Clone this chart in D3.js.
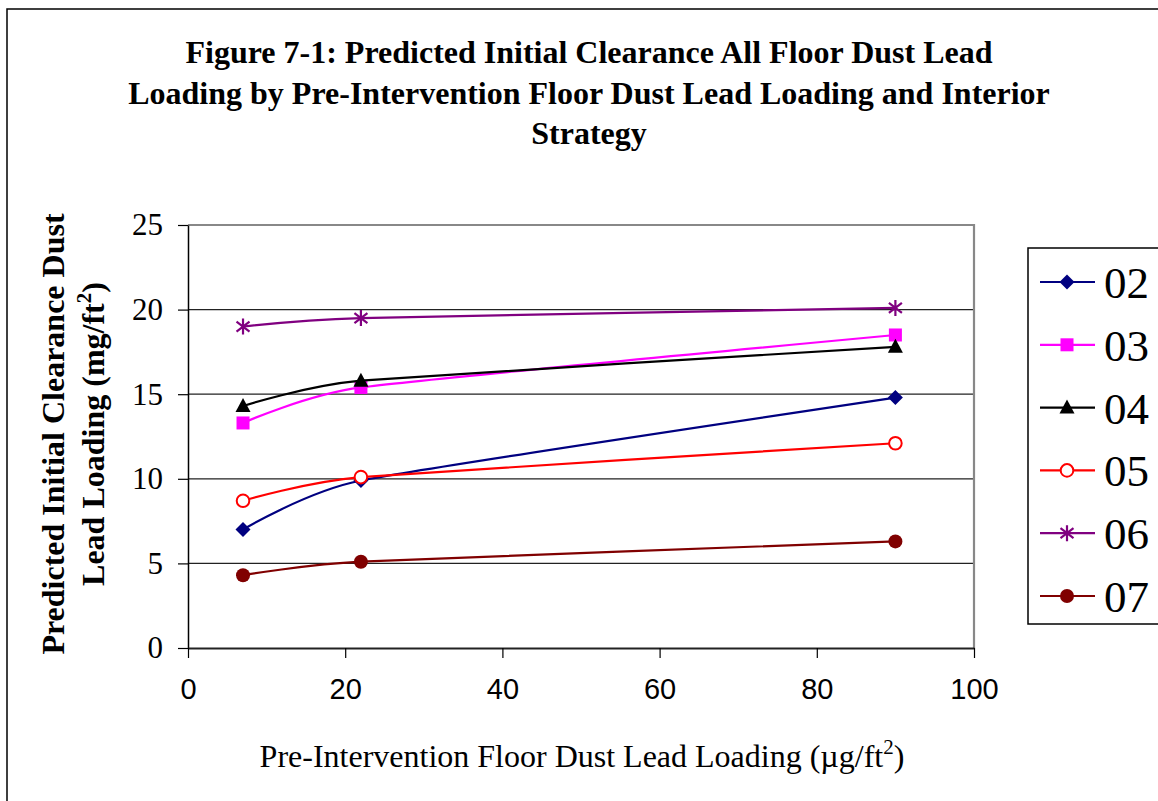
<!DOCTYPE html>
<html>
<head>
<meta charset="utf-8">
<script src="https://cdn.jsdelivr.net/npm/d3@7"></script>
<style>
  html, body { margin: 0; padding: 0; background: #fff; }
  svg { display: block; }
</style>
</head>
<body>
<div id="chart"></div>
<script>
// Figure 7-1: predicted clearance floor dust lead loading, by strategy
const titleLines = [
  "Figure 7-1: Predicted Initial Clearance All Floor Dust Lead",
  "Loading by Pre-Intervention Floor Dust Lead Loading and Interior",
  "Strategy"
];
const xValues = [7, 22, 90];
const seriesNames = ["02", "03", "04", "05", "06", "07"];
const s02 = [7.0, 9.9, 14.8];
const s03 = [13.3, 15.4, 18.5];
const s04 = [14.3, 15.8, 17.8];
const s05 = [8.7, 10.1, 12.1];
const s06 = [19.0, 19.5, 20.1];
const s07 = [4.3, 5.1, 6.3];
const xTicks = [0, 20, 40, 60, 80, 100];
const yTicks = [0, 5, 10, 15, 20, 25];

const W = 1158, H = 801;
const plot = { left: 188, right: 974, top: 225, bottom: 648 };

const styles = {
  "02": { color: "#000080", marker: "diamond" },
  "03": { color: "#ff00ff", marker: "square" },
  "04": { color: "#000000", marker: "triangle" },
  "05": { color: "#ff0000", marker: "circleOpen" },
  "06": { color: "#800080", marker: "star" },
  "07": { color: "#800000", marker: "circle" }
};

const series = [s02, s03, s04, s05, s06, s07].map((vals, i) => ({
  name: seriesNames[i],
  points: vals.map((v, j) => ({ x: xValues[j], y: v }))
}));

const svg = d3.select("#chart").append("svg").attr("width", W).attr("height", H);

// outer frame (runs off the right/bottom edges like the original)
svg.append("rect").attr("x", 7).attr("y", 9).attr("width", W + 10).attr("height", H + 10)
  .attr("fill", "none").attr("stroke", "#000").attr("stroke-width", 1.5);

const x = d3.scaleLinear().domain([0, 100]).range([plot.left, plot.right]);
const y = d3.scaleLinear().domain([0, 25]).range([plot.bottom, plot.top]);

// title
const serif = "'Liberation Serif', 'Times New Roman', serif";
svg.append("g").selectAll("text").data(titleLines).join("text")
  .attr("x", 589).attr("y", (d, i) => 63 + i * 40.5)
  .attr("text-anchor", "middle").attr("font-family", serif)
  .attr("font-weight", "bold").attr("font-size", 32).attr("fill", "#000")
  .text(d => d);

// gridlines
svg.append("g").selectAll("line").data(yTicks.filter(d => d > 0 && d < 25)).join("line")
  .attr("x1", plot.left).attr("x2", plot.right)
  .attr("y1", d => y(d)).attr("y2", d => y(d))
  .attr("stroke", "#222").attr("stroke-width", 1.2);

// plot-area border top/right (grey)
svg.append("path")
  .attr("d", `M${plot.left},${plot.top}H${plot.right}V${plot.bottom}`)
  .attr("fill", "none").attr("stroke", "#888").attr("stroke-width", 2.2);

// axes
const yAxis = svg.append("g").attr("transform", `translate(${plot.left},0)`)
  .call(d3.axisLeft(y).tickValues(yTicks).tickSize(10).tickPadding(15).tickSizeOuter(0));
yAxis.select(".domain").attr("stroke", "#000").attr("stroke-width", 1.5);
yAxis.selectAll(".tick line").attr("stroke", "#000").attr("stroke-width", 1.2);
yAxis.selectAll(".tick text").attr("font-family", serif).attr("font-size", 31).attr("fill", "#000");

const xAxis = svg.append("g").attr("transform", `translate(0,${plot.bottom})`)
  .call(d3.axisBottom(x).tickValues(xTicks).tickSize(10).tickPadding(20).tickSizeOuter(0));
xAxis.select(".domain").attr("stroke", "#222").attr("stroke-width", 1.8);
xAxis.selectAll(".tick line").attr("stroke", "#000").attr("stroke-width", 1.2);
xAxis.selectAll(".tick text").attr("font-family", "'Liberation Sans', Arial, sans-serif")
  .attr("font-size", 29).attr("fill", "#000");

// axis titles
const xt = svg.append("text").attr("x", 582).attr("y", 767).attr("text-anchor", "middle")
  .attr("font-family", serif).attr("font-size", 32).attr("fill", "#000");
xt.append("tspan").text("Pre-Intervention Floor Dust Lead Loading (µg/ft");
xt.append("tspan").attr("dy", -13).attr("font-size", 21).text("2");
xt.append("tspan").attr("dy", 13).text(")");

const yt = svg.append("g").attr("transform", "translate(0,434) rotate(-90)")
  .attr("font-family", serif).attr("font-weight", "bold").attr("font-size", 32).attr("fill", "#000");
yt.append("text").attr("x", 0).attr("y", 64).attr("text-anchor", "middle")
  .text("Predicted Initial Clearance Dust");
const yt2 = yt.append("text").attr("x", 0).attr("y", 104).attr("text-anchor", "middle");
yt2.append("tspan").text("Lead Loading (mg/ft");
yt2.append("tspan").attr("dy", -13).attr("font-size", 21).text("2");
yt2.append("tspan").attr("dy", 13).text(")");

// markers
function drawMarker(g, kind, color) {
  if (kind === "diamond") {
    g.append("path").attr("d", "M0,-7.5L7.5,0L0,7.5L-7.5,0Z").attr("fill", color);
  } else if (kind === "square") {
    g.append("rect").attr("x", -6.5).attr("y", -6.5).attr("width", 13).attr("height", 13).attr("fill", color);
  } else if (kind === "triangle") {
    g.append("path").attr("d", "M0,-8L7.5,6L-7.5,6Z").attr("fill", color);
  } else if (kind === "circleOpen") {
    g.append("circle").attr("r", 6.3).attr("fill", "#fff").attr("stroke", color).attr("stroke-width", 2);
  } else if (kind === "star") {
    g.append("path").attr("d", "M0,-8V8M-6.5,-5L6.5,5M-6.5,5L6.5,-5")
      .attr("stroke", color).attr("stroke-width", 2.2).attr("fill", "none");
  } else if (kind === "circle") {
    g.append("circle").attr("r", 7).attr("fill", color);
  }
}

// smoothed lines like the spreadsheet's "smoothed line" option
const line = d3.line().x(d => x(d.x)).y(d => y(d.y)).curve(d3.curveCardinal.tension(0.5));

const gSeries = svg.append("g").selectAll("g").data(series).join("g");
gSeries.append("path")
  .attr("d", d => line(d.points))
  .attr("fill", "none")
  .attr("stroke", d => styles[d.name].color)
  .attr("stroke-width", 2.2);
gSeries.each(function (d) {
  const st = styles[d.name];
  d3.select(this).selectAll("g.m").data(d.points).join("g").attr("class", "m")
    .attr("transform", p => `translate(${x(p.x)},${y(p.y)})`)
    .each(function () { drawMarker(d3.select(this), st.marker, st.color); });
});

// legend
const legend = svg.append("g");
legend.append("rect").attr("x", 1028).attr("y", 248).attr("width", 140).attr("height", 376)
  .attr("fill", "#fff").attr("stroke", "#000").attr("stroke-width", 1.5);
const items = legend.selectAll("g.item").data(seriesNames).join("g").attr("class", "item")
  .attr("transform", (d, i) => `translate(0,${282 + i * 62.8})`);
items.append("line").attr("x1", 1040).attr("x2", 1095)
  .attr("stroke", d => styles[d].color).attr("stroke-width", 2.2);
items.append("g").attr("transform", "translate(1067,0)")
  .each(function (d) { drawMarker(d3.select(this), styles[d].marker, styles[d].color); });
items.append("text").attr("x", 1104).attr("y", 16)
  .attr("font-family", serif).attr("font-size", 45).attr("fill", "#000")
  .text(d => d);
</script>
</body>
</html>
